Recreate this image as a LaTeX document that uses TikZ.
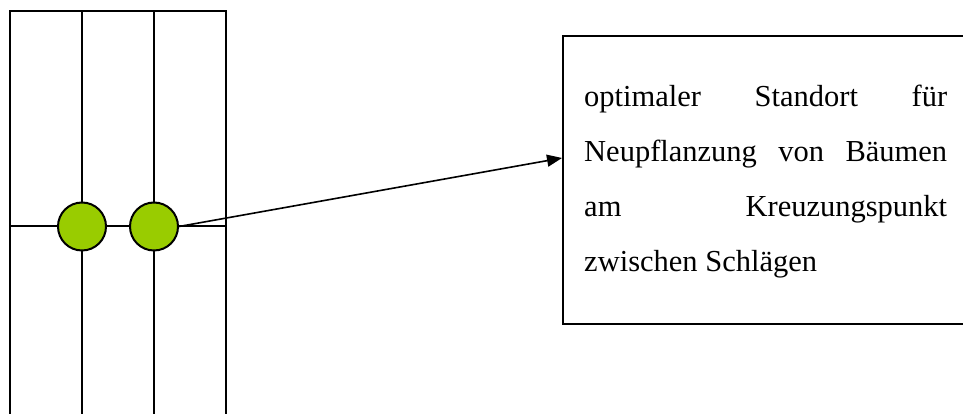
\documentclass[tikz,border=0pt]{standalone}
\usepackage{fontspec}
\setmainfont{Liberation Serif}
\usetikzlibrary{arrows.meta}
\definecolor{spotgreen}{HTML}{99CC00}
\newcommand{\fullline}[1]{\makebox[363pt][s]{#1}}
\tikzset{
  gridline/.style={line width=2pt, black},
  spot/.style={circle, draw=black, line width=2pt, fill=spotgreen, minimum size=48pt, inner sep=0pt},
  infobox/.style={draw=black, line width=2pt, rectangle, minimum width=460pt, minimum height=288pt, anchor=north west, inner sep=0pt},
  infotext/.style={align=left, anchor=base west, inner sep=0pt, font=\fontsize{30.5}{55}\selectfont},
  pointer/.style={line width=1.6pt, -{Triangle[length=15pt,width=12pt]}}
}
\begin{document}
\begin{tikzpicture}[x=1pt,y=1pt]
  \useasboundingbox (0,0) rectangle (963,414);
  % field strips: outer frame open at the bottom, two inner borders
  \draw[gridline] (10,-5) -- (10,403) -- (226,403) -- (226,-5);
  \draw[gridline] (82,-5) -- (82,403);
  \draw[gridline] (154,-5) -- (154,403);
  \draw[gridline] (10,188) -- (226,188);
  % planting spots at the crossings
  \node[spot] (c1) at (82,187.5) {};
  \node[spot] (c2) at (154,187.5) {};
  % explanation box, running off the right edge
  \node[infobox] (box) at (562,379) {};
  % anchor base west sits on the baseline of the last line
  \node[infotext] (label) at (584,142) {%
    \fullline{optimaler\hfill Standort\hfill für}\\
    \fullline{Neupflanzung\hfill von\hfill Bäumen}\\
    \fullline{am\hfill Kreuzungspunkt}\\
    zwischen Schlägen};
  \coordinate (tip) at ([yshift=22pt]box.west);
  \draw[pointer] (c2.east) -- (tip);
\end{tikzpicture}
\end{document}
